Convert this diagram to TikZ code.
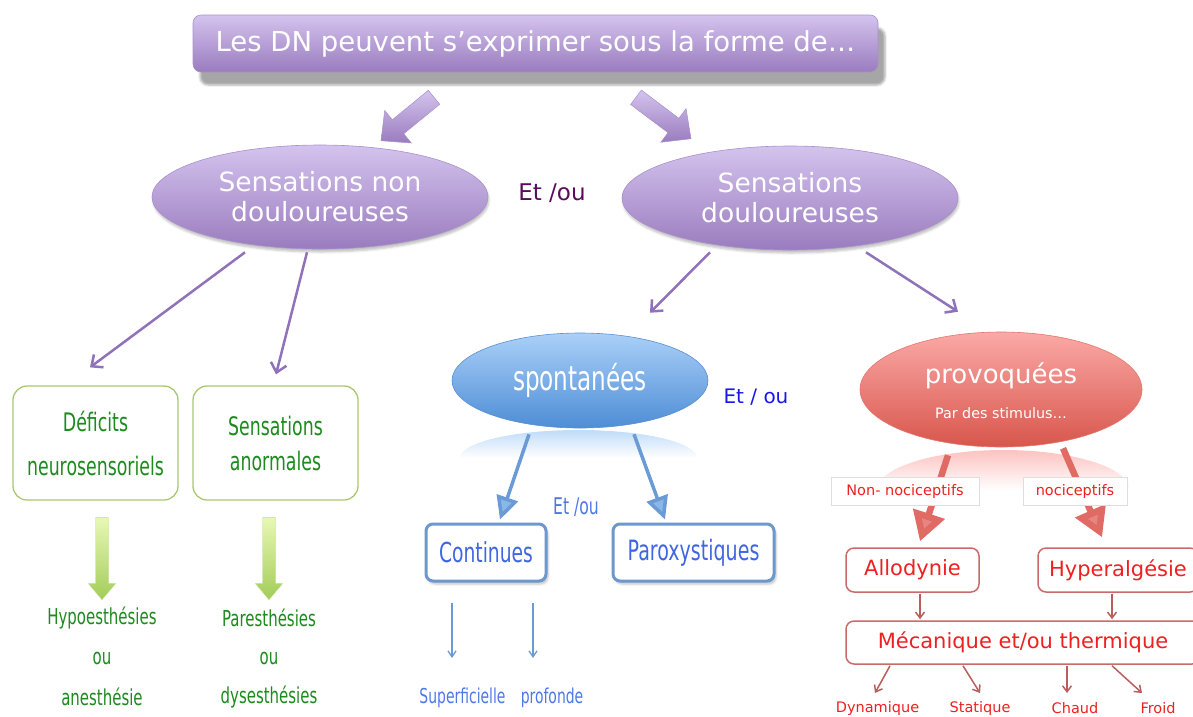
\documentclass[tikz,border=0pt]{standalone}
\usepackage{fontspec}
\setmainfont{DejaVu Sans}
\newfontfamily\cond[FakeStretch=0.68]{DejaVu Sans}
\usetikzlibrary{arrows.meta,shadows,shadows.blur,calc,shapes.geometric}
\definecolor{pT}{HTML}{D4C3EE}
\definecolor{pB}{HTML}{9A7CBE}
\definecolor{pD}{HTML}{A890CC}
\definecolor{pLine}{HTML}{8F72B9}
\definecolor{pText}{HTML}{5C0A5C}
\definecolor{gBorder}{HTML}{A8C86C}
\definecolor{gText}{HTML}{1C8A1C}
\definecolor{gT}{HTML}{E8F8B4}
\definecolor{gB}{HTML}{A2CC58}
\definecolor{bT}{HTML}{AAD0F8}
\definecolor{bB}{HTML}{4E8DD6}
\definecolor{bD}{HTML}{5A8FCF}
\definecolor{bLine}{HTML}{6A9BD6}
\definecolor{bHead}{HTML}{8AB6E8}
\definecolor{bBox}{HTML}{6C98CE}
\definecolor{bText}{HTML}{3F66E2}
\definecolor{bText2}{HTML}{1818E6}
\definecolor{bText3}{HTML}{4C78E8}
\definecolor{rT}{HTML}{FBA9A6}
\definecolor{rB}{HTML}{D8564C}
\definecolor{rLine}{HTML}{E06A64}
\definecolor{rHead}{HTML}{E98580}
\definecolor{rBox}{HTML}{C86B6B}
\definecolor{rText}{HTML}{EE2020}
\definecolor{rThin}{HTML}{B95E5E}
\definecolor{lblBorder}{HTML}{DEDEDE}

\newcommand\blockarrow[6]{%
  \coordinate (ba-h) at ($(#2)!#5!(#1)$);
  \shade[#6] ($(#1)!#3!90:(#2)$) -- ($(ba-h)!#3!90:(#2)$) -- ($(ba-h)!#4!90:(#2)$) -- (#2) -- ($(ba-h)!#4!-90:(#2)$) -- ($(ba-h)!#3!-90:(#2)$) -- ($(#1)!#3!-90:(#2)$) -- cycle;}

\tikzset{
  titlebox/.style={rectangle, rounded corners=8pt, minimum width=685pt, minimum height=57pt,
    top color=pT, bottom color=pB, draw=pD, line width=0.6pt, text=white,
    font=\fontsize{27.5}{30}\selectfont,
    blur shadow={shadow xshift=7pt, shadow yshift=-13pt, shadow opacity=35}},
  pell/.style={ellipse, minimum width=336pt, minimum height=104pt, inner sep=0pt,
    top color=pT, bottom color=pB, draw=pD, line width=0.6pt, text=white, align=center,
    font=\fontsize{26.5}{30}\selectfont,
    blur shadow={shadow xshift=1pt, shadow yshift=-3pt, shadow opacity=25}},
  gbox/.style={rectangle, rounded corners=14pt, draw=gBorder, line width=1.3pt,
    minimum width=165pt, minimum height=114pt, text=gText, align=center},
  gtxt/.style={text=gText, font=\cond\fontsize{22}{26}\selectfont, inner sep=0pt},
  parr/.style={draw=pLine, line width=2.5pt, -{Straight Barb[length=9pt,width=16pt]}},
  bell/.style={ellipse, minimum width=256pt, minimum height=95pt, inner sep=0pt,
    top color=bT, bottom color=bB, draw=bD, line width=0.6pt, text=white,
    font=\cond\fontsize{34}{40}\selectfont},
  bbox/.style={rectangle, rounded corners=7pt, draw=bBox, line width=3pt, fill=white,
    minimum width=120pt, minimum height=57pt, text=bText,
    font=\cond\fontsize{27.5}{30}\selectfont,
    blur shadow={shadow xshift=2pt, shadow yshift=-3pt, shadow opacity=25}},
  barrow/.style={draw=bLine, line width=3.5pt, -{Triangle[length=23pt,width=22pt,fill=bHead]}},
  bthin/.style={draw=bLine, line width=1.3pt, -{Straight Barb[length=6pt,width=8pt]}},
  btxt/.style={text=bText3, font=\cond\fontsize{20.5}{24}\selectfont, inner sep=0pt},
  rell/.style={ellipse, minimum width=282pt, minimum height=115pt, inner sep=0pt,
    top color=rT, bottom color=rB, draw=rB!80!white, line width=0.6pt},
  rbox/.style={rectangle, rounded corners=8pt, draw=rBox, line width=1.5pt, fill=white,
    minimum width=133pt, minimum height=44pt, text=rText, font=\fontsize{21}{24}\selectfont},
  rarrow/.style={draw=rLine, line width=6.5pt, -{Triangle[length=29pt,width=32pt,fill=rHead]}},
  lbl/.style={rectangle, draw=lblBorder, fill=white, line width=0.8pt, minimum width=148pt,
    minimum height=28pt, text=rText, font=\fontsize{14.5}{16}\selectfont},
  rthin/.style={draw=rThin, line width=1.5pt, -{Straight Barb[length=6pt,width=9pt]}},
  rsmall/.style={text=rText, font=\fontsize{14.5}{16}\selectfont, inner sep=0pt},
}

\begin{document}
\begin{tikzpicture}[x=1pt,y=-1pt]
\useasboundingbox (0,0) rectangle (1193,716);
\clip (0,0) rectangle (1193,716);

% ---------- top ----------
\node[titlebox] (title) at (535.5,43.5) {Les DN peuvent s’exprimer sous la forme de…};

\node[pell] (sn) at (320,197) {Sensations non\\douloureuses};
\node[pell] (sd) at (790,198) {Sensations\\douloureuses};
\node[text=pText, font=\fontsize{23}{26}\selectfont] (et1) at (552,193) {Et /ou};

\coordinate (ta1) at ($(title.south)+(-101.5,25)$);
\coordinate (ha1) at ($(sn.north)+(61,-4)$);
\coordinate (ta2) at ($(title.south)+(100.5,25)$);
\coordinate (ha2) at ($(sd.north)+(-99,-7)$);
\blockarrow{ta1}{ha1}{9pt}{21pt}{22pt}{top color=pT,bottom color=pB,draw=pD,line width=0.5pt}
\blockarrow{ta2}{ha2}{9pt}{21pt}{22pt}{top color=pT,bottom color=pB,draw=pD,line width=0.5pt}

% ---------- left branch ----------
\node[gbox, font=\cond\fontsize{25.5}{44}\selectfont] (def) at (95.5,443) {Déficits\\neurosensoriels};
\node[gbox, font=\cond\fontsize{25.5}{35}\selectfont] (sa) at (275.5,443) {Sensations\\anormales};

\draw[parr] ($(sn.south)+(-75,3)$) -- ($(def.north)+(-5.5,-18)$);
\draw[parr] ($(sn.south)+(-13,3)$) -- ($(sa.north)+(0.5,-11)$);

\coordinate (ga1) at ($(def.south)+(6.5,17)$);
\coordinate (gb1) at ($(def.south)+(6.5,99)$);
\coordinate (ga2) at ($(sa.south)+(-6.5,17)$);
\coordinate (gb2) at ($(sa.south)+(-6.5,99)$);
\blockarrow{ga1}{gb1}{6.5pt}{13.5pt}{16pt}{top color=gT,bottom color=gB,draw=gB!70!white,line width=0.4pt}
\blockarrow{ga2}{gb2}{6.5pt}{13.5pt}{16pt}{top color=gT,bottom color=gB,draw=gB!70!white,line width=0.4pt}

\node[gtxt] (hypo) at (102,618) {Hypoesthésies};
\node[gtxt] (ou1) at (102,658) {ou};
\node[gtxt] (anes) at (102,697) {anesthésie};
\node[gtxt] (pares) at (269,618) {Paresthésies};
\node[gtxt] (ou2) at (269,658) {ou};
\node[gtxt] (dyses) at (269,697) {dysesthésies};

% ---------- middle branch ----------
\shade[top color=bT!75!white, bottom color=white] (460,458) arc[start angle=180,end angle=360,x radius=118.5,y radius=28] -- cycle;
\node[bell] (sp) at (580,380.5) {spontanées};
\node[text=bText2, font=\fontsize{20}{24}\selectfont] (et2) at (756,397) {Et / ou};

\node[bbox] (cont) at (486,552.5) {Continues};
\node[bbox, minimum width=161pt, font=\cond\fontsize{28}{30}\selectfont] (par) at (693.5,552.5) {Paroxystiques};

\draw[barrow] ($(sp.south)+(-51,6)$) -- ($(cont.north)+(14,-3)$);
\draw[barrow] ($(sp.south)+(54,6)$) -- ($(par.north)+(-28.5,-3)$);

\node[text=bText3, font=\cond\fontsize{23}{26}\selectfont] (et3) at (576,507) {Et /ou};

\node[btxt] (sup) at (462.5,698) {Superficielle};
\node[btxt] (prof) at (552,698) {profonde};
\coordinate (sup-a) at (452,658);
\coordinate (prof-a) at (533,658);
\draw[bthin] ($(cont.south)+(-34,20)$) -- (sup-a);
\draw[bthin] ($(cont.south)+(47,20)$) -- (prof-a);

% ---------- right branch ----------
\shade[top color=rT!70!white, bottom color=white] (877,490) arc[start angle=180,end angle=360,x radius=126.5,y radius=40] -- cycle;
\node[rell] (pr) at (1001,389.5) {};
\node[text=white, font=\fontsize{26}{30}\selectfont] (prov) at (1001,376) {provoquées};
\node[text=white, font=\fontsize{14.3}{16}\selectfont] (stim) at (1001,413) {Par des stimulus…};

\draw[parr] ($(sd.south)+(-80,2)$) -- ($(sp.north)+(70,-20)$);
\draw[parr] ($(sd.south)+(76,2)$) -- ($(pr.north)+(-43,-20)$);

\node[rbox] (allo) at (912.5,570) {Allodynie};
\node[rbox, minimum width=160pt] (hyp) at (1118,570) {Hyperalgésie};

\draw[rarrow] ($(pr.south)+(-53,8)$) -- ($(allo.north)+(7.5,-6)$);
\draw[rarrow] ($(pr.south)+(62,1)$) -- ($(hyp.north)+(-16,-10)$);

\node[lbl] (nn) at (905,491) {Non- nociceptifs};
\node[lbl, minimum width=104pt] (noc) at (1075,491) {nociceptifs};

\node[rbox, minimum width=354pt, minimum height=43pt] (meca) at (1023,642.5) {Mécanique et/ou thermique};

\draw[rthin] ($(allo.south)+(7.5,1)$) -- ($(meca.north)+(-103,-1)$);
\draw[rthin] ($(hyp.south)+(-6,1)$) -- ($(meca.north)+(89,-1)$);

\node[rsmall] (dyn) at (877.5,708) {Dynamique};
\node[rsmall] (stat) at (980,708) {Statique};
\node[rsmall] (chaud) at (1075,708) {Chaud};
\node[rsmall] (froid) at (1158,708) {Froid};
\coordinate (dyn-a) at (875,693);
\coordinate (stat-a) at (980,693);
\coordinate (chaud-a) at (1067,693);
\coordinate (froid-a) at (1142,693);
\draw[rthin] ($(meca.south)+(-133,1)$) -- (dyn-a);
\draw[rthin] ($(meca.south)+(-60,1)$) -- (stat-a);
\draw[rthin] ($(meca.south)+(44,1)$) -- (chaud-a);
\draw[rthin] ($(meca.south)+(89,1)$) -- (froid-a);
\end{tikzpicture}
\end{document}
